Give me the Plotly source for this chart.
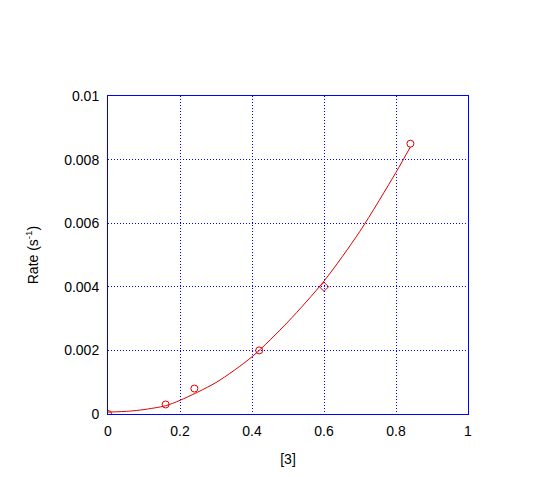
import plotly.graph_objects as go

# Measured data points
conc = [0.0, 0.16, 0.24, 0.42, 0.60, 0.84]
rate = [0.0, 0.0003, 0.0008, 0.0020, 0.0040, 0.0085]
point_symbols = ["circle-open", "circle-open", "circle-open", "circle-open", "diamond-open", "circle-open"]

# Fitted curve
fit_x = [0.0, 0.06, 0.10, 0.16, 0.20, 0.30, 0.40, 0.50, 0.60, 0.70, 0.80, 0.84]
fit_y = [0.00006, 0.00009, 0.00014, 0.00026, 0.00043, 0.00099, 0.0018, 0.0029, 0.00418, 0.00575, 0.0076, 0.0084]

x_ticks = [0, 0.2, 0.4, 0.6, 0.8, 1]
x_ticktext = ["0", "0.2", "0.4", "0.6", "0.8", "1"]
y_ticks = [0, 0.002, 0.004, 0.006, 0.008, 0.01]
y_ticktext = ["0", "0.002", "0.004", "0.006", "0.008", "0.01"]

fig = go.Figure()
fig.add_trace(go.Scatter(x=fit_x, y=fit_y, mode="lines", line=dict(color="#e00000", width=1, shape="spline", smoothing=0.8),
                         showlegend=False, hoverinfo="skip"))
fig.add_trace(go.Scatter(x=conc, y=rate, mode="markers",
                         marker=dict(symbol=point_symbols, size=7, color="#e00000", line=dict(color="#e00000", width=1)),
                         showlegend=False))

FONT = dict(family="Liberation Sans, Arial", size=14, color="#000000")
axis_common = dict(showgrid=True, gridcolor="#0000ff", griddash="1px,2px", gridwidth=1,
                   showline=True, linecolor="#0000ff", linewidth=1, mirror=True,
                   zeroline=False, ticks="", tickfont=FONT)

fig.update_xaxes(range=[0, 1], tickvals=x_ticks, ticktext=x_ticktext, ticklabelstandoff=4,
                 title=dict(text="[3]", font=FONT, standoff=16),
                 **axis_common)
fig.update_yaxes(range=[0, 0.01], tickvals=y_ticks, ticktext=y_ticktext, ticklabelstandoff=5,
                 title=dict(text="Rate (s<sup>-1</sup>)", font=FONT, standoff=22),
                 **axis_common)

# page body has an 8px margin, so the margins are shifted by 8px
fig.update_layout(width=540, height=477, margin=dict(l=100, r=80, t=88, b=71, autoexpand=False),
                  paper_bgcolor="white", plot_bgcolor="white", font=FONT)

fig.write_html("out.html")
